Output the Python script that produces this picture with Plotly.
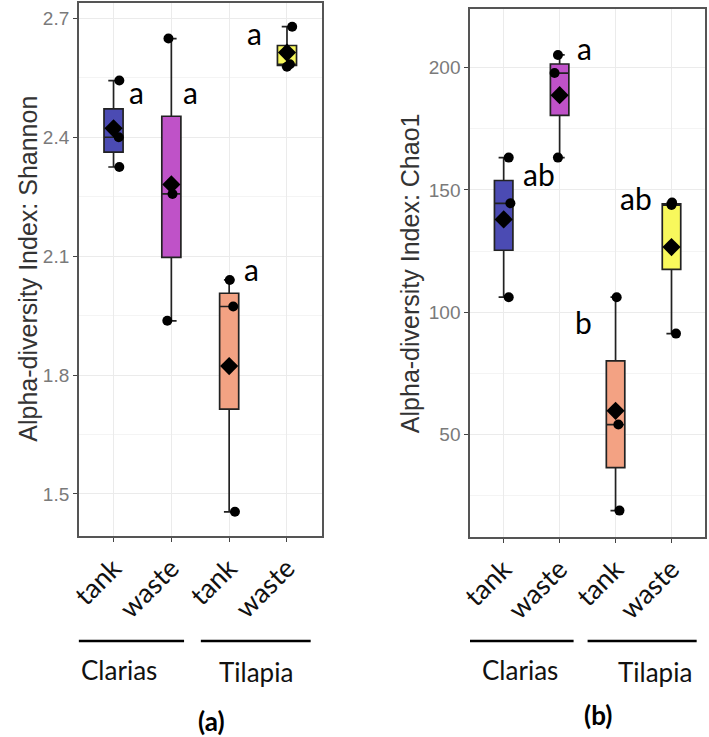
import plotly.graph_objects as go
import numpy as np

# ---------------- data ----------------
tick_labels = ["tank", "waste", "tank", "waste"]
species = ["Clarias", "Tilapia"]
positions = [1, 2, 3, 4]

shannon_ct = [2.325, 2.400, 2.543]
shannon_cw = [1.937, 2.257, 2.649]
shannon_tt = [1.455, 1.973, 2.040]
shannon_tw = [2.578, 2.584, 2.679]

chao1_ct = [106.1, 144.5, 163.2]
chao1_cw = [163.2, 197.8, 205.2]
chao1_tt = [18.8, 54.0, 106.1]
chao1_tw = [91.2, 143.8, 144.8]

letters_shannon = ["a", "a", "a", "a"]
letters_chao1 = ["ab", "a", "b", "ab"]

# ---------------- style ----------------
fills = ["#4b4bb3", "#bf52c8", "#f3a283", "#f8f85c"]
jitter_shannon = [[0.10, 0.09, 0.10], [-0.07, 0.02, -0.05], [0.10, 0.07, 0.01], [0.0, 0.05, 0.09]]
jitter_chao1 = [[0.09, 0.12, 0.09], [-0.03, -0.09, -0.03], [0.07, 0.05, 0.02], [0.08, 0.0, 0.01]]
letter_pos_shannon = [(1.40, 2.515), (2.33, 2.515), (3.38, 2.068), (3.43, 2.662)]
letter_pos_chao1 = [(1.64, 156.5), (2.45, 208.0), (2.43, 96.0), (3.36, 146.5)]

W, H = 709, 737
LBL_FONT = "Lato, 'Open Sans', sans-serif"
NUM_FONT = "'Liberation Sans', Arial, sans-serif"

fig = go.Figure()

panels = [
    dict(data=[shannon_ct, shannon_cw, shannon_tt, shannon_tw], jit=jitter_shannon,
         letters=letters_shannon, lpos=letter_pos_shannon, xa="x", ya="y"),
    dict(data=[chao1_ct, chao1_cw, chao1_tt, chao1_tw], jit=jitter_chao1,
         letters=letters_chao1, lpos=letter_pos_chao1, xa="x2", ya="y2"),
]

for p in panels:
    for i, vals in enumerate(p["data"]):
        fig.add_trace(go.Box(
            x=[positions[i]] * len(vals), y=vals, xaxis=p["xa"], yaxis=p["ya"],
            width=0.33, fillcolor=fills[i], line=dict(color="#222222", width=1.7),
            boxpoints=False, quartilemethod="inclusive", whiskerwidth=0.55,
            showlegend=False, hoverinfo="skip"))
    for i, vals in enumerate(p["data"]):
        fig.add_trace(go.Scatter(
            x=[positions[i] + j for j in p["jit"][i]], y=vals, mode="markers",
            xaxis=p["xa"], yaxis=p["ya"],
            marker=dict(color="black", size=10, symbol="circle"),
            showlegend=False, hoverinfo="skip"))
    fig.add_trace(go.Scatter(
        x=positions, y=[float(np.mean(v)) for v in p["data"]], mode="markers",
        xaxis=p["xa"], yaxis=p["ya"],
        marker=dict(color="black", size=14, symbol="diamond"),
        showlegend=False, hoverinfo="skip"))

annotations = []
for p in panels:
    for lt, (lx, ly) in zip(p["letters"], p["lpos"]):
        annotations.append(dict(x=lx, y=ly, xref=p["xa"], yref=p["ya"], text=lt,
                                xanchor="center", yanchor="middle",
                                showarrow=False, font=dict(family=LBL_FONT, size=30, color="black")))

# domains in pixels
ax_a = (68, 315, 2.5, 536)
ax_b = (466, 705, 9, 537)

def dom(px):
    x0, x1, y0, y1 = px
    return [x0 / W, x1 / W], [1 - y1 / H, 1 - y0 / H]

xa_dom, ya_dom = dom(ax_a)
xb_dom, yb_dom = dom(ax_b)

common_x = dict(range=[0.4, 4.6], tickvals=positions, ticktext=tick_labels, tickangle=-45,
                tickfont=dict(family=LBL_FONT, size=27, color="#111111"),
                showgrid=True, gridcolor="#ebebeb", gridwidth=1.2,
                showline=True, mirror=True, linecolor="#555555", linewidth=1.6,
                ticks="outside", ticklen=4, tickwidth=1.4, tickcolor="#444444", zeroline=False)
common_y = dict(tickfont=dict(family=NUM_FONT, size=19, color="#7a7a7a"),
                showgrid=True, gridcolor="#ebebeb", gridwidth=1.2,
                showline=True, mirror=True, linecolor="#555555", linewidth=1.6,
                ticks="outside", ticklen=4, tickwidth=1.4, tickcolor="#444444", zeroline=False)

fig.update_layout(
    width=W, height=H, margin=dict(l=0, r=0, t=0, b=0),
    paper_bgcolor="white", plot_bgcolor="white",
    xaxis=dict(domain=xa_dom, anchor="y", **common_x),
    yaxis=dict(domain=ya_dom, anchor="x", range=[1.394, 2.740], tick0=1.5, dtick=0.3,
               minor=dict(showgrid=True, gridcolor="#f4f4f4", dtick=0.15, tick0=1.5),
               **common_y),
    xaxis2=dict(domain=xb_dom, anchor="y2", **common_x),
    yaxis2=dict(domain=yb_dom, anchor="x2", range=[8, 224], tick0=0, dtick=50,
                minor=dict(showgrid=True, gridcolor="#f4f4f4", dtick=25, tick0=0),
                **common_y),
)

def pann(px, py, text, size, family, color="black", angle=0):
    return dict(x=px / W, y=1 - py / H, xref="paper", yref="paper", text=text,
                textangle=angle, showarrow=False, xanchor="center", yanchor="middle",
                font=dict(family=family, size=size, color=color))

# y axis titles
annotations.append(pann(16, 269, "Alpha-diversity Index: Shannon", 25, NUM_FONT, "#333333", -90))
annotations.append(pann(405, 273, "Alpha-diversity Index: Chao1", 25, NUM_FONT, "#333333", -90))

# species group labels and lines
shapes = []
group_spans = {"x": [(0.30, 2.22), (2.51, 4.41)], "x2": [(0.30, 2.25), (2.50, 4.45)]}
group_text_x = {"x": [1.10, 3.46], "x2": [1.29, 3.70]}
group_text_y = [670, 672]
line_y = 1 - 641 / H
for xr in ["x", "x2"]:
    for k, (g0, g1) in enumerate(group_spans[xr]):
        shapes.append(dict(type="line", xref=xr, yref="paper", x0=g0, x1=g1, y0=line_y, y1=line_y,
                           line=dict(color="black", width=2.5)))
        annotations.append(dict(x=group_text_x[xr][k], y=1 - group_text_y[k] / H, xref=xr, yref="paper",
                                text=species[k], showarrow=False, xanchor="center", yanchor="middle",
                                font=dict(family=LBL_FONT, size=26, color="#111111")))

annotations.append(pann(203, 721, "<b>(a)</b>", 26, LBL_FONT))
annotations.append(pann(596, 715, "<b>(b)</b>", 26, LBL_FONT))

fig.update_layout(annotations=annotations, shapes=shapes)
fig.write_html("out.html", config={"displayModeBar": False},
               post_script="document.body.style.margin='0';document.body.style.overflow='hidden';")
